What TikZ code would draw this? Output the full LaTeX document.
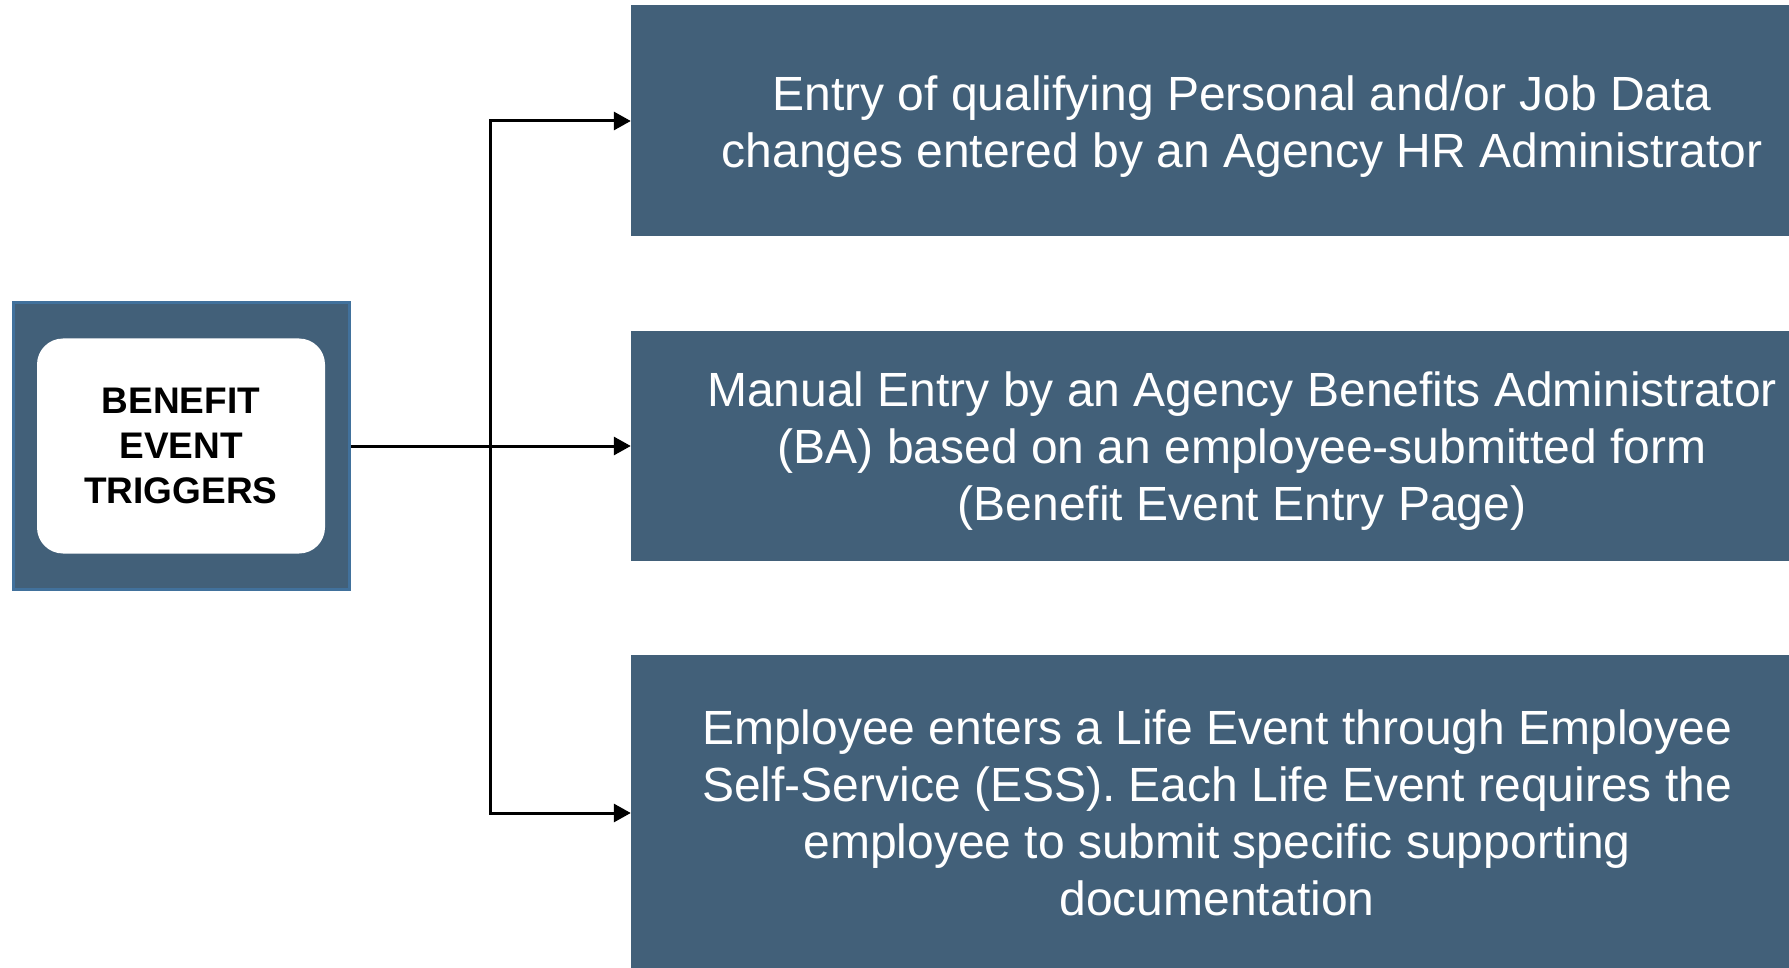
\documentclass[tikz,border=0pt]{standalone}
\usepackage{fontspec}
\setmainfont{Liberation Sans}
\usetikzlibrary{arrows.meta}
\definecolor{boxfill}{HTML}{426079}
\definecolor{boxedge}{HTML}{41719C}
\begin{document}
\begin{tikzpicture}[x=1pt,y=-1pt,
  eventbox/.style={fill=boxfill, draw=none, text=white, align=center, inner sep=0pt,
    font=\fontsize{48}{57}\selectfont},
  outerbox/.style={fill=boxfill, draw=boxedge, line width=3pt, inner sep=0pt,
    minimum width=336pt, minimum height=287pt},
  innerbox/.style={fill=white, draw=none, rounded corners=26pt, inner sep=0pt,
    minimum width=288pt, minimum height=215pt, align=center,
    font=\fontsize{37}{45}\selectfont\bfseries},
  conn/.style={line width=3pt, -{Triangle[length=17pt,width=18pt]}}
]
\useasboundingbox (0,0) rectangle (1789,968);
% left box
\node[outerbox] (outer) at (181.5,446) {};
\node[innerbox] (inner) at (181,446) {BENEFIT\\EVENT\\TRIGGERS};
% right boxes
\node[eventbox, minimum width=1222pt, minimum height=231pt] (top) at (1242,121)
  {\rule{0pt}{45pt}Entry of qualifying Personal and/or Job Data\\changes entered by an Agency HR Administrator};
\node[eventbox, minimum width=1222pt, minimum height=230pt] (mid) at (1242,446)
  {\rule{0pt}{44pt}Manual Entry by an Agency Benefits Administrator\\(BA) based on an employee-submitted form\\(Benefit Event Entry Page)};
\node[eventbox, minimum width=1172pt, minimum height=316pt] (bot) at (1217,813)
  {Employee enters a Life Event through Employee\\Self-Service (ESS). Each Life Event requires the\\employee to submit specific supporting\\documentation};
% connectors
\coordinate (j) at (490,446);
\draw[conn] (outer.east) -- (mid.west);
\draw[conn] (j) |- (top.west);
\draw[conn] (j) |- (bot.west);
\end{tikzpicture}
\end{document}
